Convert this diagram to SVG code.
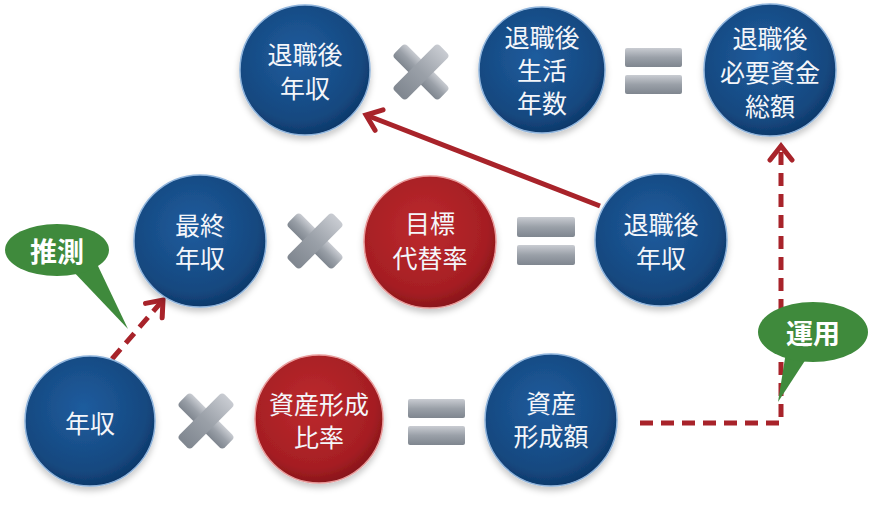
<svg xmlns="http://www.w3.org/2000/svg" width="870" height="509" viewBox="0 0 870 509">
<style>
.lbl{font-family:"Noto Sans CJK JP","Noto Sans",sans-serif;font-size:25px;fill:#f4f6fa;text-anchor:middle;dominant-baseline:central;}
.sm{font-size:24px;}
.blbl{font-family:"Noto Sans CJK JP","Noto Sans",sans-serif;font-size:27px;font-weight:bold;fill:#ffffff;text-anchor:middle;dominant-baseline:central;}
.blue{fill:url(#gBlue);stroke:#8fb4dc;stroke-width:1.5;filter:url(#sh);}
.red{fill:url(#gRed);stroke:#e89a9a;stroke-width:1.5;filter:url(#sh);}
.green{fill:#3f8a3c;}
.conn{fill:none;stroke:#a8232a;stroke-width:5;}
.dash{stroke-dasharray:13 8;}
.op{fill:url(#gGray);}
</style>
<defs>
<radialGradient id="gBlue" cx="0.45" cy="0.4" r="0.65">
<stop offset="0" stop-color="#1f5c9e"/>
<stop offset="0.75" stop-color="#15487f"/>
<stop offset="1" stop-color="#0b3262"/>
</radialGradient>
<radialGradient id="gRed" cx="0.45" cy="0.4" r="0.65">
<stop offset="0" stop-color="#bd2a2e"/>
<stop offset="0.75" stop-color="#a51e23"/>
<stop offset="1" stop-color="#7e1216"/>
</radialGradient>
<linearGradient id="gGray" x1="0" y1="0" x2="0" y2="1">
<stop offset="0" stop-color="#c9ccd2"/>
<stop offset="0.5" stop-color="#9aa0a8"/>
<stop offset="1" stop-color="#7f868f"/>
</linearGradient>
<filter id="sh" x="-20%" y="-20%" width="140%" height="150%">
<feDropShadow dx="0" dy="4" stdDeviation="3" flood-color="#000000" flood-opacity="0.22"/>
</filter>
<marker id="arr" markerUnits="userSpaceOnUse" viewBox="-20 -14 24 28" markerWidth="24" markerHeight="28" refX="0" refY="0" orient="auto">
<path d="M -14 -11 L 0 0 L -14 11" fill="none" stroke="#a8232a" stroke-width="5" stroke-dasharray="none" stroke-linecap="round" stroke-linejoin="miter"/>
</marker>
<g id="xsym"><rect x="-32" y="-9" width="64" height="18" rx="4"/><rect x="-9" y="-32" width="18" height="64" rx="4"/></g>
</defs>

<g id="connectors">
<path class="conn" d="M 600 206 L 366 115" marker-end="url(#arr)"/>
<path class="conn dash" d="M 112 359 L 163 300" marker-end="url(#arr)"/>
<path class="conn dash" d="M 640 423 H 781 V 146" marker-end="url(#arr)"/>
</g>

<g id="ops">
<use href="#xsym" class="op" transform="translate(421,72) rotate(45)"/>
<use href="#xsym" class="op" transform="translate(315,241) rotate(45)"/>
<use href="#xsym" class="op" transform="translate(206,421) rotate(45)"/>
<rect class="op" x="625" y="48" width="57" height="19" rx="2"/>
<rect class="op" x="625" y="75" width="57" height="19" rx="2"/>
<rect class="op" x="517" y="217" width="58" height="20" rx="2"/>
<rect class="op" x="517" y="245" width="58" height="20" rx="2"/>
<rect class="op" x="408" y="399" width="57" height="19" rx="2"/>
<rect class="op" x="408" y="426" width="57" height="19" rx="2"/>
</g>

<g id="n-post-income-top">
<circle class="blue" cx="305" cy="70" r="65"/>
<text class="lbl" x="305" y="53">退職後</text>
<text class="lbl" x="305" y="87">年収</text>
</g>
<g id="n-post-years">
<circle class="blue" cx="542" cy="70" r="63"/>
<text class="lbl" x="542" y="36">退職後</text>
<text class="lbl" x="542" y="69">生活</text>
<text class="lbl" x="542" y="102">年数</text>
</g>
<g id="n-total">
<circle class="blue" cx="770" cy="70" r="66"/>
<text class="lbl" x="770" y="37">退職後</text>
<text class="lbl" x="770" y="71">必要資金</text>
<text class="lbl" x="770" y="105">総額</text>
</g>
<g id="n-final-income">
<circle class="blue" cx="200" cy="241" r="66"/>
<text class="lbl" x="200" y="224">最終</text>
<text class="lbl" x="200" y="257">年収</text>
</g>
<g id="n-target-rate">
<circle class="red" cx="430" cy="242" r="66"/>
<text class="lbl" x="430" y="222">目標</text>
<text class="lbl" x="430" y="257">代替率</text>
</g>
<g id="n-post-income-mid">
<circle class="blue" cx="661" cy="240" r="66"/>
<text class="lbl" x="661" y="223">退職後</text>
<text class="lbl" x="661" y="257">年収</text>
</g>
<g id="n-income">
<circle class="blue" cx="90" cy="421" r="65"/>
<text class="lbl" x="90" y="422">年収</text>
</g>
<g id="n-asset-ratio">
<circle class="red" cx="319" cy="419" r="64"/>
<text class="lbl" x="319" y="403">資産形成</text>
<text class="lbl" x="319" y="436">比率</text>
</g>
<g id="n-asset-amount">
<circle class="blue" cx="551" cy="420" r="66"/>
<text class="lbl" x="551" y="402">資産</text>
<text class="lbl" x="551" y="435">形成額</text>
</g>

<g id="callout-suisoku">
<path class="green" d="M 70 268 L 98 266 L 128 329 Z"/>
<ellipse class="green" cx="57" cy="250" rx="52" ry="26"/>
<text class="blbl" x="57" y="250">推測</text>
</g>
<g id="callout-unyo">
<path class="green" d="M 786 352 L 808 356 L 778 402 Z"/>
<ellipse class="green" cx="813" cy="332" rx="55" ry="30"/>
<text class="blbl" x="813" y="332">運用</text>
</g>
</svg>
